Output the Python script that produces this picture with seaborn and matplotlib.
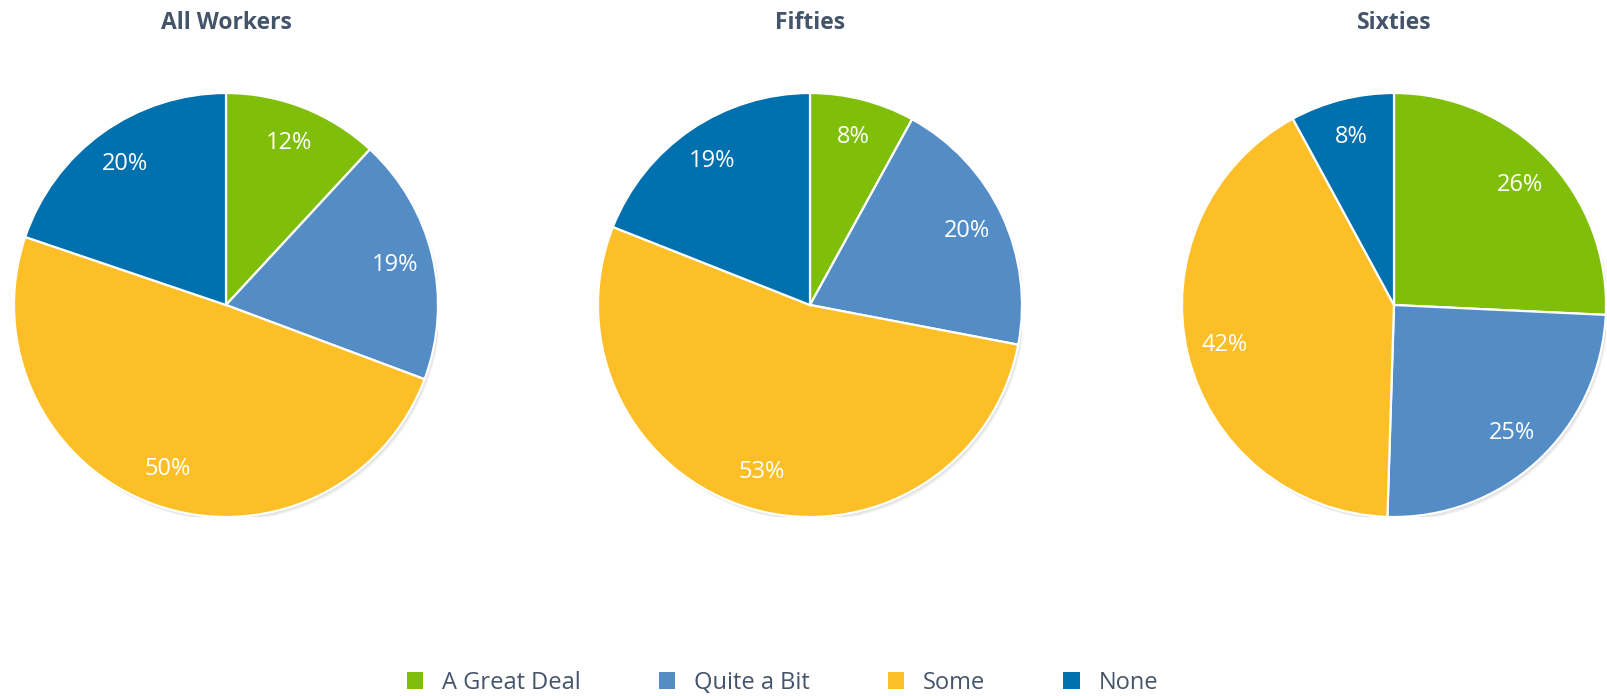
import matplotlib
matplotlib.use("Agg")
import matplotlib.pyplot as plt
import seaborn as sns
from matplotlib.patches import Patch, Circle

# data
categories = ["A Great Deal", "Quite a Bit", "Some", "None"]
groups = ["All Workers", "Fifties", "Sixties"]
all_workers = [12, 19, 50, 20]
fifties = [8, 20, 53, 19]
sixties = [26, 25, 42, 8]
series = [all_workers, fifties, sixties]

colors = sns.color_palette(["#7FBF0A", "#548DC6", "#FDBF28", "#0070AE"])

sns.set_theme(style="white")
plt.rcParams["font.family"] = ["Open Sans", "DejaVu Sans"]

W, H = 1607, 696
fig = plt.figure(figsize=(W / 100, H / 100), dpi=100)
fig.patch.set_facecolor("white")

centers_x = [226, 810, 1394]
center_y = 305
radius = 212

for name, vals, cx in zip(groups, series, centers_x):
    ax = fig.add_axes([(cx - radius) / W, (H - center_y - radius) / H,
                       2 * radius / W, 2 * radius / H])
    # soft shadow under pie
    for i in range(3):
        ax.add_patch(Circle((0.004 * (i + 1), -0.006 * (i + 1)), 1.0,
                            color="black", alpha=0.05, lw=0, zorder=0))
    wedges, texts, autotexts = ax.pie(
        vals, colors=colors, startangle=90, counterclock=False,
        autopct=lambda p: f"{p * sum(vals) / 100:.0f}%", pctdistance=0.82,
        radius=1.0, wedgeprops=dict(edgecolor="white", linewidth=1.6),
        textprops=dict(color="white", fontsize=17))
    for w in wedges:
        w.set_zorder(2)
    for t in autotexts:
        t.set_zorder(3)
    ax.set_xlim(-1.0, 1.0)
    ax.set_ylim(-1.0, 1.0)
    ax.set_aspect("equal")
    ax.axis("off")
    fig.text(cx / W, 1 - 23 / H, name, ha="center", va="center",
             fontsize=16.5, fontweight="bold", color="#44546A")

handles = [Patch(facecolor=c, edgecolor="none", label=l) for c, l in zip(colors, categories)]
leg = fig.legend(handles=handles, loc="center", bbox_to_anchor=(0.487, 0.019),
                 ncol=4, frameon=False, fontsize=17, handlelength=0.7,
                 handleheight=0.7, handletextpad=0.8, columnspacing=3.3)
for t in leg.get_texts():
    t.set_color("#44546A")

fig.savefig("out.png", dpi=100, facecolor="white")
